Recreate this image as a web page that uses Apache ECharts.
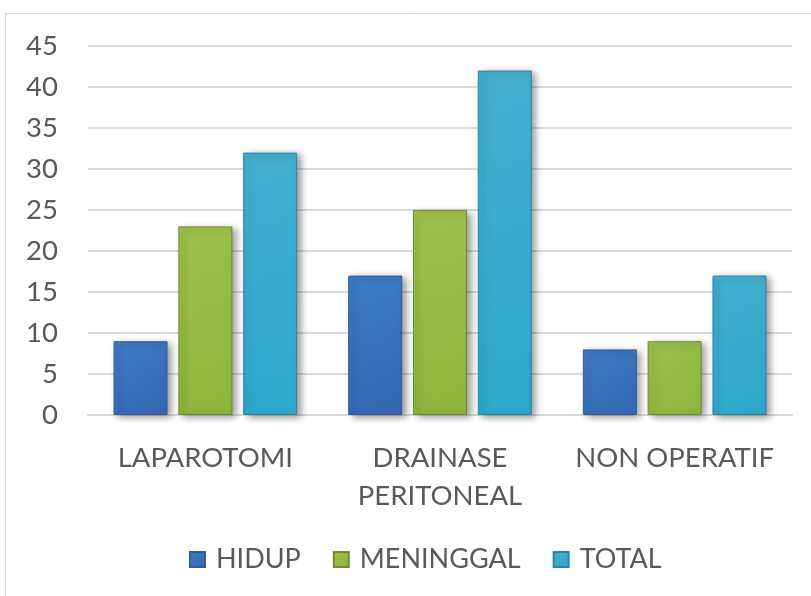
<!DOCTYPE html>
<html>
<head>
<meta charset="utf-8">
<script src="https://cdn.jsdelivr.net/npm/echarts@6/dist/echarts.min.js"></script>
<style>html,body{margin:0;padding:0;background:#fff;}#c{width:811px;height:596px;}</style>
</head>
<body>
<div id="c"></div>
<script>
const categories = ['LAPAROTOMI', 'DRAINASE\nPERITONEAL', 'NON OPERATIF'];
const hidup = [9, 17, 8];
const meninggal = [23, 25, 9];
const total = [32, 42, 17];
const yTicks = {min: 0, max: 45, interval: 5};

const FONT = 'Lato';
const TXT = '#595959';
function grad(top, bottom) {
  return new echarts.graphic.LinearGradient(0, 0, 1, 1, [{offset: 0, color: top}, {offset: 1, color: bottom}]);
}
function mk(name, data, c1, c2, border) {
  return {
    name: name, type: 'bar', data: data, barWidth: 54, barGap: '20%',
    itemStyle: {color: grad(c1, c2), borderColor: border, borderWidth: 1,
      shadowColor: 'rgba(0,0,0,0.4)', shadowBlur: 7, shadowOffsetX: 4, shadowOffsetY: 2}
  };
}
const chart = echarts.init(document.getElementById('c'), null, {renderer: 'canvas'});
chart.setOption({
  animation: false,
  backgroundColor: '#fff',
  graphic: [{type: 'rect', shape: {x: 5.5, y: 13.5, width: 820, height: 600}, style: {fill: 'none', stroke: '#d9d9d9', lineWidth: 1}, silent: true}],
  grid: {left: 88, right: 19, top: 46, bottom: 181},
  legend: {
    bottom: 18, left: 184, itemWidth: 15, itemHeight: 15, itemGap: 32,
    icon: 'rect',
    textStyle: {fontFamily: FONT, fontSize: 27, color: TXT, padding: [0, 0, 0, 6]},
    data: ['HIDUP', 'MENINGGAL', 'TOTAL']
  },
  xAxis: {
    type: 'category', data: categories,
    axisLine: {lineStyle: {color: '#d9d9d9', width: 2}},
    axisTick: {show: false},
    axisLabel: {fontFamily: FONT, fontSize: 27.5, color: TXT, margin: 24, lineHeight: 38, interval: 0}
  },
  yAxis: {
    type: 'value', min: yTicks.min, max: yTicks.max, interval: yTicks.interval,
    axisLine: {show: false}, axisTick: {show: false},
    splitLine: {lineStyle: {color: '#d9d9d9', width: 2}},
    axisLabel: {fontFamily: FONT, fontSize: 27.5, color: TXT, margin: 30}
  },
  series: [
    mk('HIDUP', hidup, '#3f7bc6', '#3468b3', '#2f5d9c'),
    mk('MENINGGAL', meninggal, '#9cc24d', '#8db43d', '#6f8d30'),
    mk('TOTAL', total, '#44b0d0', '#2ea8cc', '#2a87a3')
  ]
});
</script>
</body>
</html>
